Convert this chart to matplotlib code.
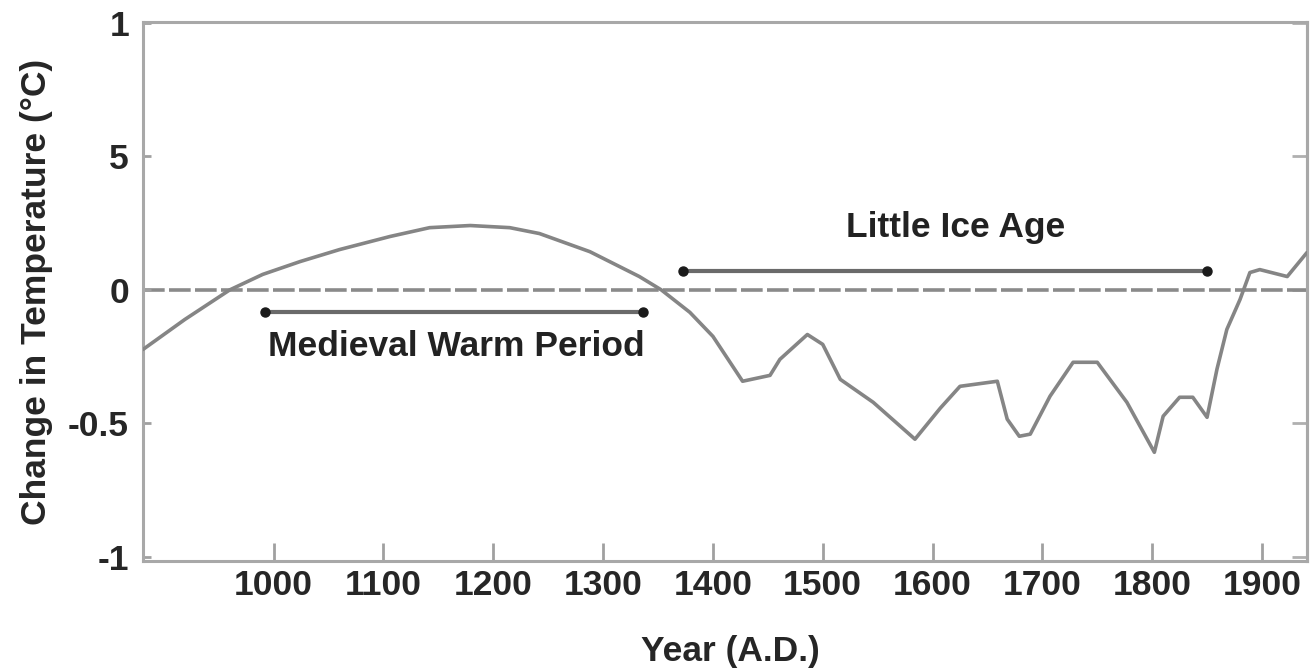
import matplotlib
matplotlib.use("Agg")
import matplotlib.pyplot as plt

plt.rcParams['font.family'] = ['Liberation Sans', 'DejaVu Sans']
plt.rcParams['font.weight'] = 'bold'

# temperature curve (year, change in degC)
years = [881, 919, 960, 990, 1024, 1060, 1106, 1142, 1179, 1215, 1242, 1288,
         1333, 1353, 1379, 1400, 1427, 1452, 1461, 1486, 1500, 1516, 1546,
         1584, 1607, 1625, 1659, 1668, 1679, 1689, 1707, 1728, 1750, 1777,
         1802, 1810, 1825, 1837, 1850, 1859, 1868, 1880, 1889, 1898, 1923, 1941]
temps = [-0.223, -0.111, 0.0, 0.058, 0.106, 0.151, 0.200, 0.233, 0.241, 0.233,
         0.211, 0.143, 0.050, 0.0, -0.084, -0.174, -0.342, -0.320, -0.260,
         -0.167, -0.204, -0.335, -0.421, -0.559, -0.443, -0.361, -0.342,
         -0.484, -0.548, -0.540, -0.398, -0.271, -0.271, -0.421, -0.608,
         -0.473, -0.402, -0.402, -0.477, -0.297, -0.148, -0.036, 0.065,
         0.076, 0.050, 0.140]

# period bars: start, end, level
mwp_span = [992, 1336]
mwp_level = -0.084
lia_span = [1373, 1850]
lia_level = 0.069

xticks = [1000, 1100, 1200, 1300, 1400, 1500, 1600, 1700, 1800, 1900]
yticks = [1, 0.5, 0, -0.5, -1]
ytick_labels = ["1", "5", "0", "-0.5", "-1"]

fig = plt.figure(figsize=(13.12, 6.72), dpi=100)
ax = fig.add_axes([143/1312, 1 - 561/672, (1307-143)/1312, (561-22)/672])

line_col = "#858585"
ax.axhline(0, color="#8a8a8a", lw=2.6, linestyle=(0, (6, 1.2)), zorder=1)
ax.plot(years, temps, color=line_col, lw=2.6, zorder=3,
        solid_joinstyle="round", solid_capstyle="round")

bar_col = "#6a6a6a"
for span, lev in [(mwp_span, mwp_level), (lia_span, lia_level)]:
    ax.plot(span, [lev, lev], color=bar_col, lw=3.0, zorder=2)
    ax.plot(span, [lev, lev], linestyle="none", marker="o", ms=6.5,
            color="#1a1a1a", zorder=4)

ax.text(1166, -0.249, "Medieval Warm Period", ha="center", va="baseline",
        fontsize=25.5, fontweight="bold", color="#222222")
ax.text(1621, 0.199, "Little Ice Age", ha="center", va="baseline",
        fontsize=25.5, fontweight="bold", color="#222222")

ax.set_xlim(881, 1941)
ax.set_ylim(-1.015, 1.003)
ax.set_xticks(xticks)
ax.set_yticks(yticks)
ax.set_yticklabels(ytick_labels)

ax.tick_params(axis="x", direction="in", length=13, width=2, color="#a0a0a0",
               pad=6, labelsize=25.5, labelcolor="#262626")
ax.tick_params(axis="y", direction="in", length=6, width=2, color="#a0a0a0",
               pad=10, labelsize=25.5, labelcolor="#262626")

sec = ax.secondary_yaxis("right")
sec.set_yticks(yticks)
sec.set_yticklabels([])
sec.tick_params(direction="in", length=11, width=2, color="#b0b0b0")
sec.spines["right"].set_color("#a8a8a8")
sec.spines["right"].set_linewidth(2.2)

for s in ax.spines.values():
    s.set_color("#a8a8a8")
    s.set_linewidth(2.2)

ax.set_xlabel("Year (A.D.)", fontsize=25.5, fontweight="bold", color="#262626")
ax.xaxis.set_label_coords(0.505, -0.137)
ax.set_ylabel("Change in Temperature (\u00b0C)", fontsize=25.5,
              fontweight="bold", color="#262626")
ax.yaxis.set_label_coords(-0.0773, 0.5)

fig.savefig("out.png", dpi=100, facecolor="white")
